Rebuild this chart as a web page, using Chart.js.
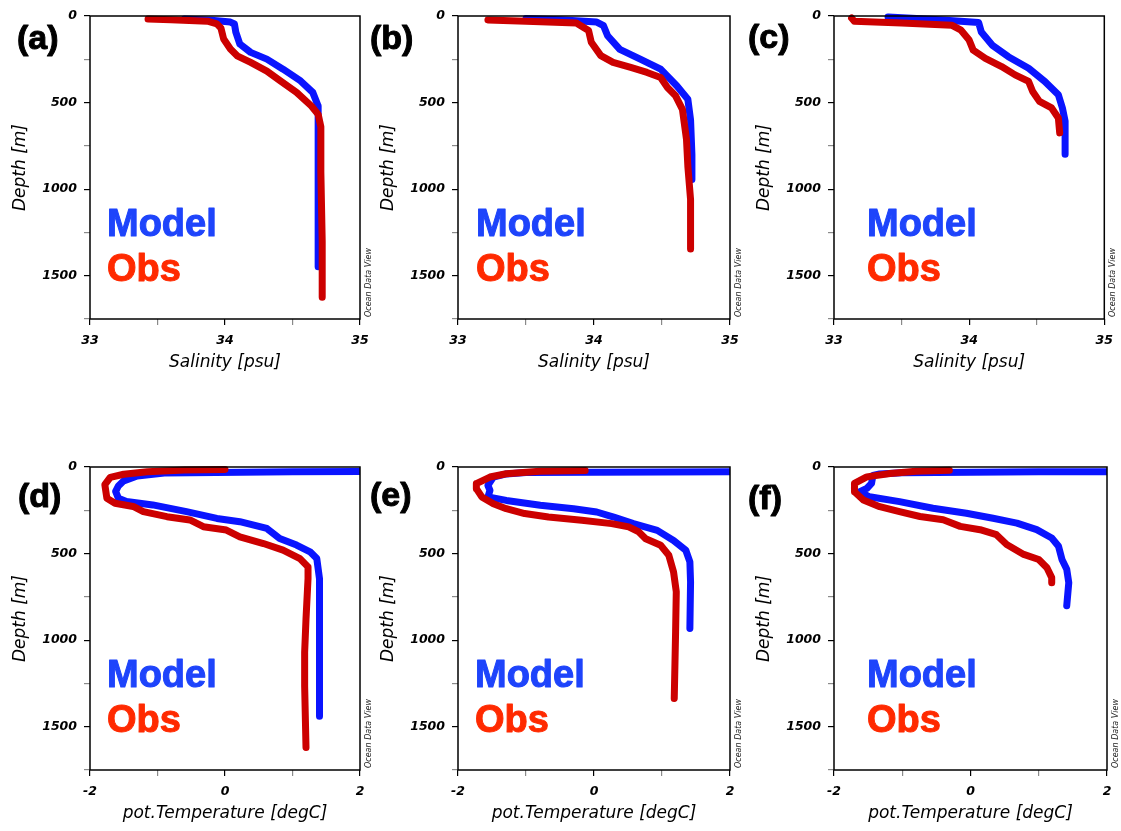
<!DOCTYPE html>
<html lang="en">
<head>
<meta charset="UTF-8">
<title>Salinity and Temperature Profiles</title>
<script src="https://cdn.jsdelivr.net/npm/chart.js"></script>
<style>
  html, body { margin: 0; padding: 0; background: #fff; overflow: hidden; }
  .panel { position: absolute; }
</style>
</head>
<body>
<div class="panel" style="left:0px;top:0px"><canvas id="pa" width="378" height="380"></canvas></div>
<div class="panel" style="left:368px;top:0px"><canvas id="pb" width="380" height="380"></canvas></div>
<div class="panel" style="left:744px;top:0px"><canvas id="pc" width="377" height="380"></canvas></div>
<div class="panel" style="left:0px;top:451px"><canvas id="pd" width="378" height="380"></canvas></div>
<div class="panel" style="left:368px;top:451px"><canvas id="pe" width="380" height="380"></canvas></div>
<div class="panel" style="left:744px;top:451px"><canvas id="pf" width="377" height="380"></canvas></div>

<script>
// (a) salinity profiles
const aObsSal   = [33.43, 33.60, 33.87, 33.94, 33.97, 33.99, 34.04, 34.09, 34.19, 34.31, 34.41, 34.53, 34.64, 34.69, 34.71, 34.71, 34.72, 34.72];
const aObsDepth = [18, 22, 30, 45, 70, 133, 191, 230, 268, 318, 375, 441, 520, 568, 640, 900, 1300, 1625];
const aModSal   = [33.70, 33.90, 34.04, 34.07, 34.08, 34.11, 34.19, 34.31, 34.43, 34.56, 34.65, 34.69, 34.69, 34.69, 34.69];
const aModDepth = [18, 24, 35, 46, 93, 162, 210, 249, 307, 375, 441, 520, 600, 1000, 1448];

// (b) salinity profiles
const bObsSal   = [33.22, 33.50, 33.87, 33.96, 33.98, 34.05, 34.14, 34.27, 34.39, 34.49, 34.54, 34.60, 34.65, 34.68, 34.69, 34.71, 34.71, 34.71];
const bObsDepth = [23, 30, 40, 84, 152, 229, 268, 297, 326, 355, 413, 461, 539, 712, 867, 1060, 1200, 1345];
const bModSal   = [33.50, 33.75, 34.02, 34.07, 34.10, 34.19, 34.34, 34.49, 34.61, 34.69, 34.71, 34.72, 34.72];
const bModDepth = [15, 22, 35, 56, 114, 193, 249, 307, 404, 481, 600, 800, 945];

// (c) salinity profiles
const cObsSal   = [33.13, 33.15, 33.50, 33.87, 33.94, 34.00, 34.03, 34.12, 34.24, 34.34, 34.44, 34.47, 34.52, 34.61, 34.66, 34.67];
const cObsDepth = [12, 30, 40, 53, 82, 139, 197, 245, 292, 340, 378, 436, 493, 531, 589, 675];
const cModSal   = [33.40, 33.75, 34.07, 34.09, 34.17, 34.29, 34.44, 34.56, 34.66, 34.69, 34.71, 34.71, 34.71];
const cModDepth = [6, 20, 38, 92, 168, 235, 302, 378, 455, 531, 608, 700, 798];

// (d) potential temperature profiles
const dObsTemp  = [0.00, -0.60, -1.15, -1.50, -1.70, -1.78, -1.75, -1.63, -1.36, -1.21, -0.86, -0.52, -0.32, 0.02, 0.22, 0.57, 0.86, 1.11, 1.23, 1.23, 1.20, 1.18, 1.18, 1.20];
const dObsDepth = [14, 18, 28, 42, 60, 102, 180, 209, 228, 258, 287, 306, 345, 364, 403, 442, 480, 529, 577, 645, 878, 1071, 1265, 1620];
const dModTemp  = [2.50, 1.00, -0.90, -1.30, -1.50, -1.58, -1.62, -1.58, -1.46, -1.07, -0.57, -0.12, 0.22, 0.62, 0.81, 1.06, 1.26, 1.36, 1.40, 1.40, 1.40];
const dModDepth = [26, 28, 35, 52, 80, 110, 141, 180, 199, 219, 258, 297, 316, 355, 413, 451, 490, 529, 645, 1000, 1440];

// (e) potential temperature profiles
const eObsTemp  = [-0.13, -0.80, -1.29, -1.53, -1.73, -1.73, -1.65, -1.48, -1.29, -1.02, -0.67, -0.18, 0.26, 0.51, 0.66, 0.76, 0.98, 1.10, 1.17, 1.21, 1.20, 1.18];
const eObsDepth = [20, 25, 39, 58, 96, 125, 173, 212, 241, 269, 289, 308, 327, 346, 375, 414, 452, 510, 606, 721, 952, 1337];
const eModTemp  = [2.50, 1.00, -1.00, -1.29, -1.48, -1.56, -1.53, -1.56, -1.29, -0.79, -0.30, 0.04, 0.29, 0.58, 0.93, 1.17, 1.35, 1.41, 1.42, 1.41];
const eModDepth = [27, 29, 32, 40, 58, 106, 135, 173, 193, 221, 241, 260, 289, 327, 366, 424, 481, 548, 664, 933];

// (f) potential temperature profiles
const fObsTemp  = [-0.31, -0.80, -1.18, -1.52, -1.70, -1.70, -1.57, -1.33, -1.04, -0.74, -0.40, -0.15, 0.14, 0.38, 0.53, 0.78, 1.00, 1.12, 1.19, 1.19];
const fObsDepth = [19, 25, 38, 57, 95, 143, 191, 229, 258, 286, 305, 343, 362, 391, 448, 505, 534, 582, 639, 668];
const fModTemp  = [2.50, 1.00, -1.00, -1.33, -1.43, -1.45, -1.52, -1.62, -1.48, -1.04, -0.55, -0.06, 0.33, 0.68, 0.97, 1.19, 1.29, 1.34, 1.41, 1.44, 1.41];
const fModDepth = [27, 28, 33, 40, 48, 95, 124, 143, 172, 200, 238, 267, 296, 324, 362, 410, 458, 534, 591, 668, 801];

const MODEL_LINE = '#0a14ff';
const OBS_LINE = '#cc0000';
const MODEL_TEXT = '#1e44fb';
const OBS_TEXT = '#ff2a00';

const ROW_TOP = 16;      // chart area top inside each canvas
const PLOT_H = 303;
const Y_AXIS_W = 90;

function toPoints(xs, ys) {
    return xs.map((v, i) => ({ x: v, y: ys[i] }));
}

// heavy text: fill plus a thin stroke of the same colour
function heavyText(ctx, text, x, y, color, weight) {
    ctx.fillStyle = color;
    ctx.strokeStyle = color;
    ctx.lineWidth = weight;
    ctx.lineJoin = 'round';
    ctx.fillText(text, x, y);
    ctx.strokeText(text, x, y);
}

// frame, panel tag, Model/Obs legend text and ODV credit
const profileDecor = {
    id: 'profileDecor',
    afterDraw(chart, args, opts) {
        const ctx = chart.ctx;
        const a = chart.chartArea;
        ctx.save();
        ctx.strokeStyle = '#000';
        ctx.lineWidth = 1.5;
        ctx.strokeRect(a.left, a.top, a.right - a.left, a.bottom - a.top);

        ctx.font = 'bold 34px "Liberation Sans", Arial, sans-serif';
        ctx.textAlign = 'left';
        ctx.textBaseline = 'middle';
        heavyText(ctx, opts.tag, a.left + opts.tagDx, a.top + opts.tagDy, '#000', 1);

        ctx.font = 'bold 38px "Liberation Sans", Arial, sans-serif';
        ctx.textBaseline = 'alphabetic';
        heavyText(ctx, 'Model', a.left + opts.legendDx, a.top + 220, MODEL_TEXT, 1);
        heavyText(ctx, 'Obs', a.left + opts.legendDx, a.top + 265, OBS_TEXT, 1);

        ctx.translate(a.right + 9, a.bottom - 2);
        ctx.rotate(-Math.PI / 2);
        ctx.fillStyle = '#222';
        ctx.font = 'italic 8px "DejaVu Sans", sans-serif';
        ctx.textBaseline = 'middle';
        ctx.fillText('Ocean Data View', 0, 0);
        ctx.restore();
    }
};

const tickFont = { family: '"DejaVu Sans", sans-serif', size: 12.5, weight: 'bold', style: 'italic' };
const titleFont = { family: '"DejaVu Sans", sans-serif', size: 17, style: 'italic' };

function makePanel(id, cfg) {
    const canvas = document.getElementById(id);
    const rightPad = canvas.width - Y_AXIS_W - cfg.plotW;
    new Chart(canvas, {
        type: 'scatter',
        data: {
            datasets: [
                {
                    label: 'Obs',
                    data: toPoints(cfg.obsX, cfg.obsDepth),
                    borderColor: OBS_LINE,
                    order: 0
                },
                {
                    label: 'Model',
                    data: toPoints(cfg.modX, cfg.modDepth),
                    borderColor: MODEL_LINE,
                    order: 1
                }
            ]
        },
        options: {
            responsive: false,
            animation: false,
            layout: { padding: { top: ROW_TOP, right: rightPad, bottom: 0, left: 0 } },
            datasets: {
                scatter: {
                    showLine: true,
                    borderWidth: 7,
                    pointRadius: 0,
                    borderCapStyle: 'round',
                    borderJoinStyle: 'round',
                    clip: { left: 6, top: 6, right: 0, bottom: 6 }
                }
            },
            scales: {
                x: {
                    type: 'linear',
                    min: cfg.xMin,
                    max: cfg.xMax,
                    afterFit: s => { s.height = canvas.height - ROW_TOP - PLOT_H; },
                    border: { display: false },
                    grid: {
                        drawOnChartArea: false,
                        tickLength: 6,
                        lineWidth: 1.2,
                        color: c => (c.tick && c.tick.label !== '' ? '#000' : '#8a8a8a')
                    },
                    ticks: {
                        stepSize: cfg.xStep,
                        autoSkip: false,
                        maxRotation: 0,
                        padding: 8,
                        color: '#000',
                        font: tickFont,
                        callback: v => (cfg.xLabels.includes(v) ? String(v) : '')
                    },
                    title: {
                        display: true,
                        text: cfg.xTitle,
                        color: '#000',
                        font: titleFont,
                        padding: { top: 0, bottom: 7 }
                    }
                },
                y: {
                    type: 'linear',
                    reverse: true,
                    min: 0,
                    max: 1750,
                    afterFit: s => { s.width = Y_AXIS_W; },
                    border: { display: false },
                    grid: {
                        drawOnChartArea: false,
                        tickLength: 6,
                        lineWidth: 1.2,
                        color: c => (c.tick && c.tick.value % 500 === 0 ? '#000' : '#8a8a8a')
                    },
                    ticks: {
                        stepSize: 250,
                        autoSkip: false,
                        padding: 7,
                        color: '#000',
                        font: tickFont,
                        callback: v => (v % 500 === 0 ? String(v) : '')
                    },
                    title: {
                        display: true,
                        text: 'Depth [m]',
                        color: '#000',
                        font: titleFont,
                        padding: { top: 10, bottom: 0 }
                    }
                }
            },
            plugins: {
                legend: { display: false },
                tooltip: { enabled: false },
                profileDecor: { tag: cfg.tag, tagDx: cfg.tagDx, tagDy: cfg.tagDy, legendDx: cfg.legendDx }
            }
        },
        plugins: [profileDecor]
    });
}

const salAxis = { xMin: 33, xMax: 35, xStep: 0.5, xLabels: [33, 34, 35], xTitle: 'Salinity [psu]' };
const tempAxis = { xMin: -2, xMax: 2, xStep: 1, xLabels: [-2, 0, 2], xTitle: 'pot.Temperature [degC]' };

makePanel('pa', { ...salAxis, plotW: 270, tag: '(a)', tagDx: -73, tagDy: 24, legendDx: 17,
    obsX: aObsSal, obsDepth: aObsDepth, modX: aModSal, modDepth: aModDepth });
makePanel('pb', { ...salAxis, plotW: 272, tag: '(b)', tagDx: -88, tagDy: 24, legendDx: 18,
    obsX: bObsSal, obsDepth: bObsDepth, modX: bModSal, modDepth: bModDepth });
makePanel('pc', { ...salAxis, plotW: 273, tag: '(c)', tagDx: -86, tagDy: 23, legendDx: 33,
    obsX: cObsSal, obsDepth: cObsDepth, modX: cModSal, modDepth: cModDepth });
makePanel('pd', { ...tempAxis, plotW: 270, tag: '(d)', tagDx: -72, tagDy: 31, legendDx: 17,
    obsX: dObsTemp, obsDepth: dObsDepth, modX: dModTemp, modDepth: dModDepth });
makePanel('pe', { ...tempAxis, plotW: 272, tag: '(e)', tagDx: -88, tagDy: 30, legendDx: 17,
    obsX: eObsTemp, obsDepth: eObsDepth, modX: eModTemp, modDepth: eModDepth });
makePanel('pf', { ...tempAxis, plotW: 273, tag: '(f)', tagDx: -86, tagDy: 33, legendDx: 33,
    obsX: fObsTemp, obsDepth: fObsDepth, modX: fModTemp, modDepth: fModDepth });
</script>
</body>
</html>
